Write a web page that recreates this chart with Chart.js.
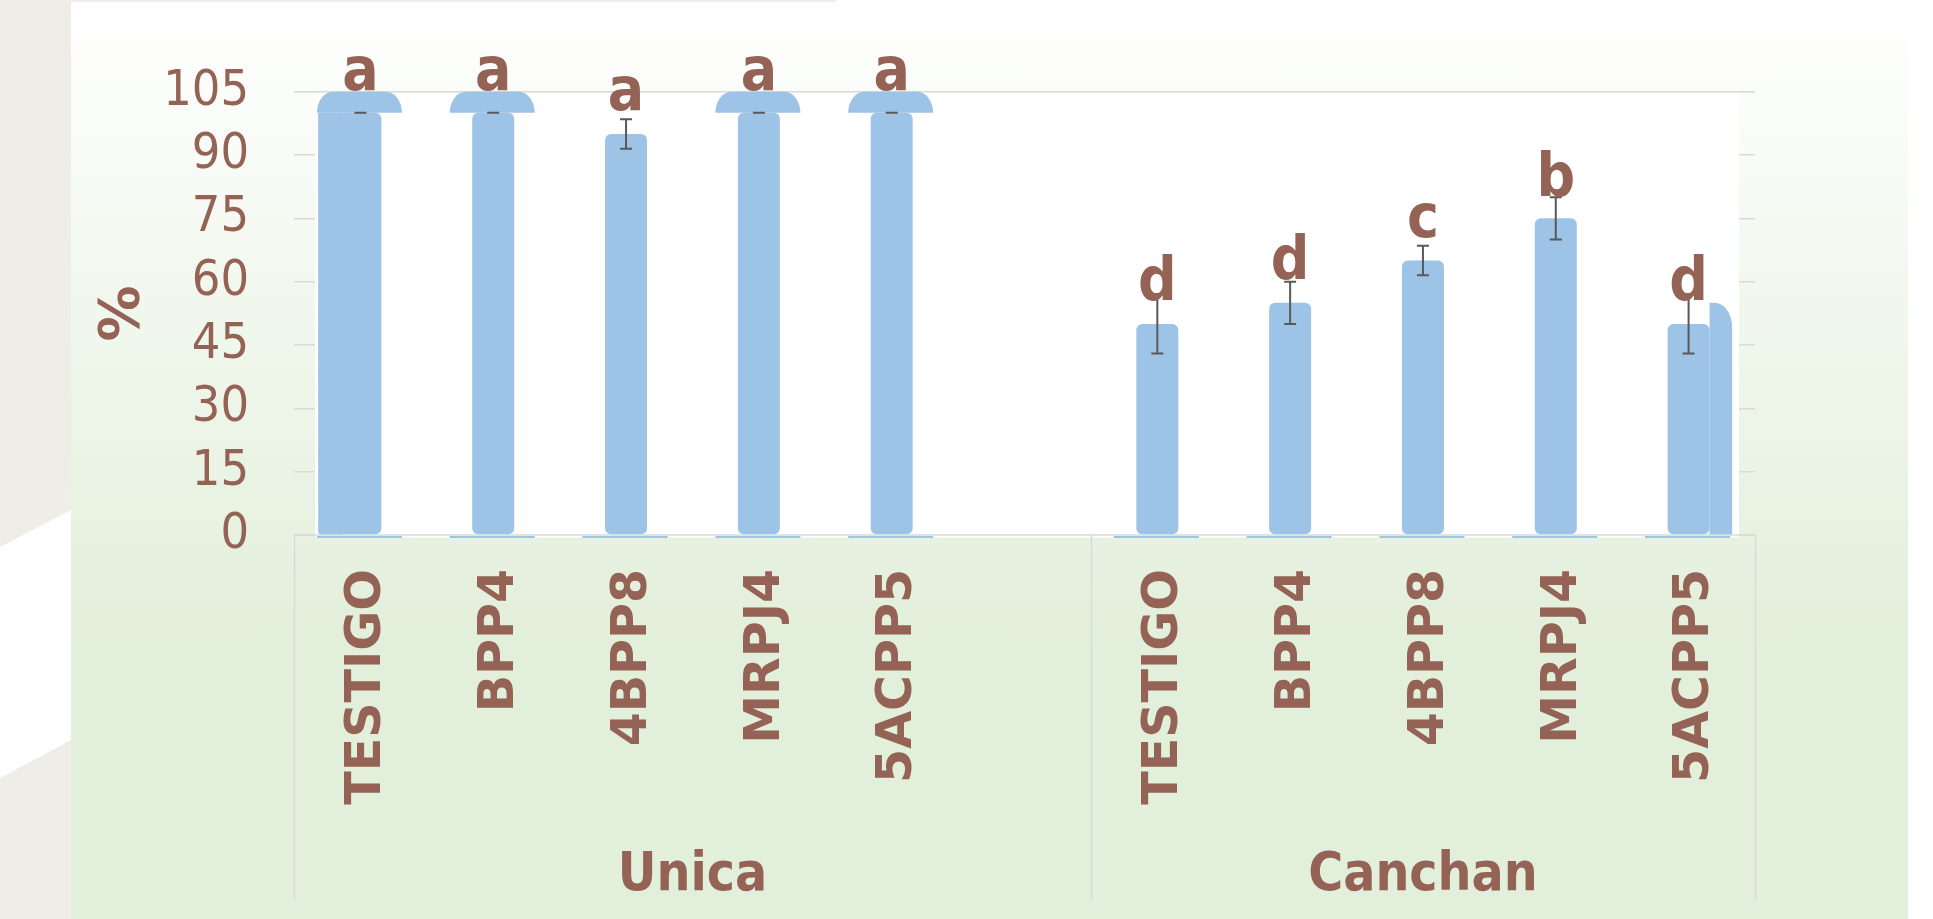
<!DOCTYPE html>
<html>
<head>
<meta charset="utf-8">
<script src="https://cdn.jsdelivr.net/npm/chart.js@4.4.1/dist/chart.umd.min.js"></script>
<style>
  html, body { margin: 0; padding: 0; background: #eeede8; overflow: hidden; }
  #stage { position: relative; width: 1933px; height: 919px; }
  #stripe { position: absolute; left: 0; top: 0; width: 71px; height: 919px; background: #fff;
            clip-path: polygon(0 547px, 71px 510px, 71px 740px, 0 778px); }
  #panel { position: absolute; left: 71px; top: 0; width: 1837px; height: 919px;
           background: linear-gradient(#ffffff 0%, #e2efda 70%, #e2efda 100%); }
  #topline { position: absolute; left: 71px; top: 0; width: 765px; height: 2px; background: #eeede8; }
  #rightpad { position: absolute; left: 1908px; top: 0; width: 25px; height: 919px; background: #fff; }
  #chart { position: absolute; left: 0; top: 0; }
</style>
</head>
<body>
<div id="stage">
  <div id="stripe"></div>
  <div id="panel"></div>
  <div id="topline"></div>
  <div id="rightpad"></div>
  <canvas id="chart" width="1933" height="919"></canvas>
</div>
<script>
// data
const labels = ['TESTIGO', 'BPP4', '4BPP8', 'MRPJ4', '5ACPP5', '', 'TESTIGO', 'BPP4', '4BPP8', 'MRPJ4', '5ACPP5'];
const groups = ['Unica', 'Canchan'];
const groupSizes = [6, 5];
const values = [100, 100, 95, 100, 100, null, 50, 55, 65, 75, 50];
const errors = [0, 0, 3.5, 0, 0, null, 7, 5, 3.5, 5, 7];
const letters = ['a', 'a', 'a', 'a', 'a', '', 'd', 'd', 'c', 'b', 'd'];
const letterAt = [105.3, 105.3, 100.6, 105.3, 105.3, null, 55.6, 60.6, 70.5, 80.4, 55.6];
// odd rounded shapes stuck to some bars in the original
const capLow = [100, 100, null, 100, 100, null, null, null, null, null, null];
const capHigh = [105, 105, null, 105, 105, null, null, null, null, null, null];
const sideLeft = [100, null, null, null, null, null, null, null, null, null, null];
const sideRight = [null, null, null, null, null, null, null, null, null, null, 55];
const yTicks = [0, 15, 30, 45, 60, 75, 90, 105];

const INK = '#946356';
const BLUE = '#9dc3e6';
const LINE = '#d9d9d9';
const NARROW = '"DejaVu Sans Condensed", "DejaVu Sans", sans-serif';
const WIDE = '"DejaVu Sans", sans-serif';

const decor = {
  id: 'decor',
  beforeDatasetsDraw(chart) {
    const { ctx, chartArea: a, scales: { x, y } } = chart;
    const slot = x.getPixelForValue(1) - x.getPixelForValue(0);
    const base = y.getPixelForValue(0);
    const meta = chart.getDatasetMeta(0);
    ctx.save();
    // white plot face, gridlines only peek out at the sides
    ctx.fillStyle = '#fff';
    ctx.fillRect(a.left + 21, a.top + 1.5, a.right - a.left - 37, a.bottom - a.top + 1);

    ctx.fillStyle = BLUE;
    capHigh.forEach((hi, i) => {
      if (hi == null) return;
      const cx = x.getPixelForValue(i) - 1, half = slot * 0.32;
      const top = y.getPixelForValue(hi), bot = y.getPixelForValue(capLow[i]);
      const rx = 16, ry = bot - top;
      ctx.beginPath();
      ctx.moveTo(cx - half, bot);
      ctx.ellipse(cx - half + rx, bot, rx, ry, 0, Math.PI, 1.5 * Math.PI);
      ctx.lineTo(cx + half - rx, top);
      ctx.ellipse(cx + half - rx, bot, rx, ry, 0, 1.5 * Math.PI, 2 * Math.PI);
      ctx.closePath();
      ctx.fill();
    });
    sideLeft.forEach((v, i) => {
      if (v == null) return;
      const bar = meta.data[i];
      const x1 = bar.x - bar.width / 2, w = slot * 0.16;
      const top = y.getPixelForValue(v);
      ctx.beginPath();
      ctx.roundRect(x1 - w, top, w + 4, base - top, [0, 0, 0, 4]);
      ctx.fill();
    });
    sideRight.forEach((v, i) => {
      if (v == null) return;
      const bar = meta.data[i];
      const x1 = bar.x + bar.width / 2, w = slot * 0.17;
      const top = y.getPixelForValue(v);
      ctx.beginPath();
      ctx.moveTo(x1, base);
      ctx.lineTo(x1, top);
      ctx.ellipse(x1 + w - 18, top + 24, 18, 24, 0, 1.5 * Math.PI, 2 * Math.PI);
      ctx.lineTo(x1 + w, base);
      ctx.closePath();
      ctx.fill();
    });
    ctx.restore();
  },
  afterDatasetsDraw(chart) {
    const { ctx, chartArea: a, scales: { x, y } } = chart;
    const slot = x.getPixelForValue(1) - x.getPixelForValue(0);
    const base = y.getPixelForValue(0);
    ctx.save();

    // category axis box
    ctx.strokeStyle = LINE;
    ctx.lineWidth = 1.5;
    ctx.beginPath();
    ctx.moveTo(a.left, base);
    ctx.lineTo(a.right, base);
    let idx = 0;
    const bounds = [a.left];
    groupSizes.forEach(n => { idx += n; bounds.push(x.getPixelForValue(idx - 1) + slot / 2); });
    bounds.forEach(bx => { ctx.moveTo(Math.round(bx) + 0.5, base); ctx.lineTo(Math.round(bx) + 0.5, base + 365); });
    ctx.stroke();

    // thin blue feet under the bars
    ctx.strokeStyle = BLUE;
    ctx.lineWidth = 2;
    values.forEach((v, i) => {
      if (v == null) return;
      const cx = x.getPixelForValue(i) - 1, half = slot * 0.32;
      ctx.beginPath();
      ctx.moveTo(cx - half, base + 2);
      ctx.lineTo(cx + half, base + 2);
      ctx.stroke();
    });

    // error bars
    ctx.strokeStyle = '#595959';
    ctx.lineWidth = 2;
    values.forEach((v, i) => {
      if (v == null) return;
      const cx = x.getPixelForValue(i);
      const hi = y.getPixelForValue(v + errors[i]), lo = y.getPixelForValue(v - errors[i]);
      ctx.beginPath();
      if (errors[i] > 0) { ctx.moveTo(cx, hi); ctx.lineTo(cx, lo); }
      ctx.moveTo(cx - 6, hi); ctx.lineTo(cx + 6, hi);
      ctx.moveTo(cx - 6, lo); ctx.lineTo(cx + 6, lo);
      ctx.stroke();
    });

    // significance letters
    ctx.fillStyle = INK;
    ctx.font = 'bold 60px ' + NARROW;
    ctx.textAlign = 'center';
    ctx.textBaseline = 'alphabetic';
    letters.forEach((t, i) => {
      if (!t) return;
      ctx.fillText(t, x.getPixelForValue(i), y.getPixelForValue(letterAt[i]));
    });

    // group names under the category labels
    ctx.font = 'bold 53px ' + NARROW;
    groups.forEach((g, k) => {
      ctx.fillText(g, (bounds[k] + bounds[k + 1]) / 2, base + 355);
    });
    ctx.restore();
  }
};

new Chart(document.getElementById('chart'), {
  type: 'bar',
  data: {
    labels: labels,
    datasets: [{
      data: values,
      backgroundColor: BLUE,
      borderRadius: 6,
      borderSkipped: false,
      categoryPercentage: 1,
      barPercentage: 0.316
    }]
  },
  options: {
    responsive: false,
    animation: false,
    layout: { padding: { left: 0, right: 178, top: 91.7, bottom: 0 } },
    plugins: { legend: { display: false }, tooltip: { enabled: false } },
    scales: {
      x: {
        grid: { display: false },
        border: { display: false },
        ticks: {
          color: INK, autoSkip: false, minRotation: 90, maxRotation: 90, padding: 26, labelOffset: 7,
          font: { family: WIDE, size: 49, weight: 'bold' }
        },
        afterFit(s) { s.height = 919 - 535; }
      },
      y: {
        min: 0, max: 105,
        afterBuildTicks(s) { s.ticks = yTicks.map(v => ({ value: v })); },
        grid: { color: LINE, drawTicks: false, lineWidth: 1.5 },
        border: { display: false },
        ticks: { color: INK, padding: 45, font: { family: NARROW, size: 50 } },
        title: {
          display: true, text: '%', color: INK, padding: { top: 90, bottom: 0 },
          font: { family: WIDE, size: 56, weight: 'bold' }
        },
        afterFit(s) { s.width = 294; }
      }
    }
  },
  plugins: [decor]
});
</script>
</body>
</html>
